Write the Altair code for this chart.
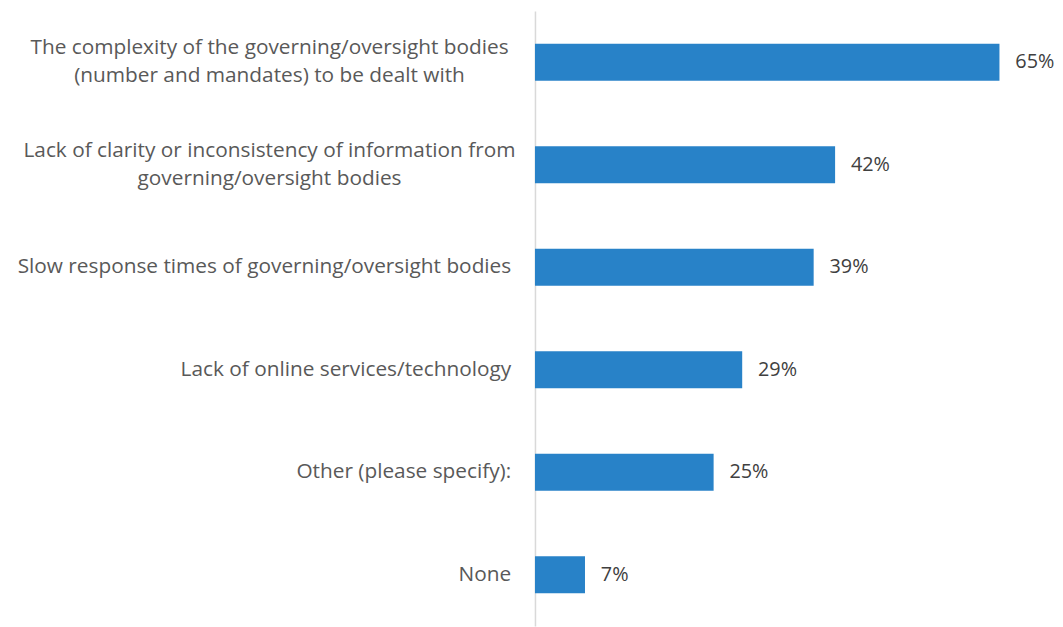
import altair as alt
import pandas as pd

categories = [
    "The complexity of the governing/oversight bodies|(number and mandates) to be dealt with",
    "Lack of clarity or inconsistency of information from|governing/oversight bodies",
    "Slow response times of governing/oversight bodies",
    "Lack of online services/technology",
    "Other (please specify):",
    "None",
]
values = [65, 42, 39, 29, 25, 7]
value_labels = ["65%", "42%", "39%", "29%", "25%", "7%"]

df = pd.DataFrame({
    "category": categories,
    "value": values,
    "label": value_labels,
    "multi": ["|" in c for c in categories],
})

FONT = "Open Sans"
FS = 21
GRAY = "#595959"

y_enc = alt.Y("category:N", sort=categories, title=None,
              scale=alt.Scale(paddingInner=0.64, paddingOuter=0.32),
              axis=alt.Axis(labels=False, ticks=False, domain=True,
                            domainColor="#d9d9d9", domainWidth=1.5, grid=False))
x_enc = alt.X("value:Q", scale=alt.Scale(domain=[0, 70]), axis=None)

bars = alt.Chart(df).mark_bar(color="#2882C8").encode(x=x_enc, y=y_enc)

vals = alt.Chart(df).mark_text(align="left", baseline="middle", dx=16,
                               font=FONT, fontSize=20, color="#404040").encode(
    x=x_enc, y=alt.Y("category:N", sort=categories), text="label:N")

single = alt.Chart(df).transform_filter("!datum.multi").mark_text(
    align="right", baseline="middle", font=FONT, fontSize=FS, color=GRAY).encode(
    x=alt.value(-24), y=alt.Y("category:N", sort=categories), text="category:N")

multi = alt.Chart(df).transform_filter("datum.multi").mark_text(
    align="center", baseline="middle", font=FONT, fontSize=FS, color=GRAY,
    lineBreak="|", lineHeight=28, dy=-14).encode(
    x=alt.value(-268), y=alt.Y("category:N", sort=categories), text="category:N")

chart = alt.layer(bars, vals, single, multi).properties(
    width=505, height=621,
    autosize=alt.AutoSizeParams(type="none"),
    padding={"left": 532, "top": 0, "right": 20, "bottom": 0},
).configure_view(stroke=None)

chart.save("out.html", embed_options={"renderer": "svg", "actions": False})
